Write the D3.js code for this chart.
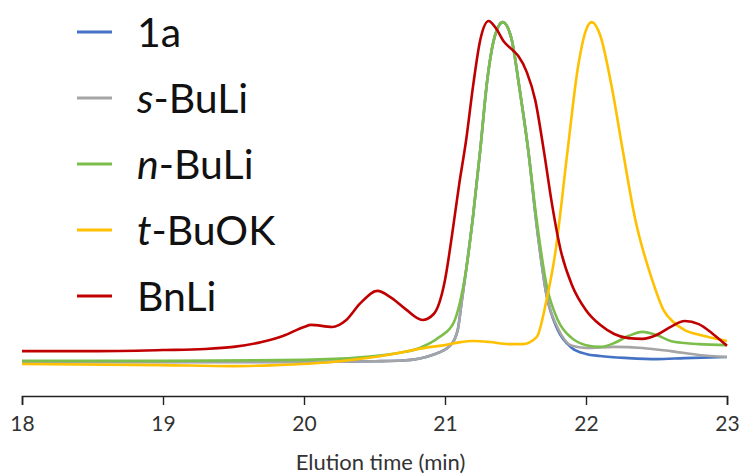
<!DOCTYPE html>
<html>
<head>
<meta charset="utf-8">
<script src="https://cdn.jsdelivr.net/npm/d3@7"></script>
<style>
  body { margin: 0; background: #fff; }
  svg { display: block; }
</style>
</head>
<body>
<div id="chart"></div>
<script>
// series names + colours
const seriesNames = ["1a", "s-BuLi", "n-BuLi", "t-BuOK", "BnLi"];
const seriesColors = ["#4472C4", "#A5A5A5", "#7BBE4A", "#FFC000", "#C00000"];

// x ticks (elution time, min)
const xTicks = [18, 19, 20, 21, 22, 23];

// detector signal (arbitrary units): [time, signal]
const data1a = [
  [18.0, 2.3], [19.0, 2.3], [20.0, 2.3], [20.5, 2.5], [20.7, 2.7], [20.91, 4.3],
  [21.04, 7.1], [21.09, 11.4], [21.12, 20.0], [21.15, 28.6], [21.2, 44.3], [21.25, 62.9],
  [21.3, 82.9], [21.35, 94.9], [21.41, 99.4], [21.47, 94.9], [21.53, 80], [21.59, 62.9],
  [21.65, 41.4], [21.72, 21.4], [21.8, 11.4], [21.9, 6.3], [22.0, 4.6], [22.1, 4.0],
  [22.3, 3.4], [22.5, 3.1], [22.7, 3.4], [23.0, 3.7]
];
const dataSBuLi = [
  [18.0, 2.3], [19.0, 2.3], [20.0, 2.3], [20.5, 2.5], [20.7, 2.7], [20.91, 4.3],
  [21.04, 7.1], [21.09, 11.4], [21.12, 20.0], [21.15, 28.6], [21.2, 44.3], [21.25, 62.9],
  [21.3, 82.9], [21.35, 94.9], [21.41, 99.4], [21.47, 94.9], [21.53, 80], [21.59, 62.9],
  [21.65, 41.4], [21.72, 21.4], [21.8, 12.0], [21.9, 6.9], [22.0, 6.3], [22.2, 6.6],
  [22.4, 6.3], [22.6, 5.4], [22.8, 4.3], [23.0, 3.7]
];
const dataNBuLi = [
  [18.0, 2.6], [19.0, 2.6], [20.0, 2.9], [20.4, 3.6], [20.68, 4.9], [20.82, 6.3],
  [20.96, 9.4], [21.06, 13.4], [21.11, 20.0], [21.15, 28.6], [21.2, 44.3], [21.25, 62.9],
  [21.3, 82.9], [21.35, 94.9], [21.41, 99.4], [21.47, 94.9], [21.53, 80], [21.59, 62.9],
  [21.65, 42.9], [21.72, 24.3], [21.8, 14.3], [21.9, 9.1], [22.0, 7.1], [22.1, 6.6],
  [22.2, 7.7], [22.3, 9.7], [22.4, 10.9], [22.5, 10.0], [22.6, 8.3], [22.7, 7.7],
  [22.8, 7.4], [23.0, 7.1]
];
const dataTBuOK = [
  [18.0, 1.7], [19.0, 1.4], [19.5, 1.1], [19.8, 1.4], [20.2, 2.3], [20.5, 3.7],
  [20.7, 5.1], [20.9, 6.6], [21.0, 7.1], [21.1, 7.9], [21.2, 8.3], [21.32, 8.0],
  [21.45, 7.4], [21.55, 7.4], [21.65, 9.4], [21.72, 20.0], [21.78, 32.9], [21.87, 62.9],
  [21.94, 85.7], [22.0, 97.1], [22.04, 99.4], [22.1, 95.7], [22.18, 81.4], [22.26, 62.9],
  [22.35, 42.9], [22.47, 25.7], [22.55, 17.1], [22.62, 13.7], [22.7, 11.4], [22.81, 10.0],
  [23.0, 8.3]
];
const dataBnLi = [
  [18.0, 5.4], [18.5, 5.4], [19.0, 5.7], [19.3, 6.0], [19.5, 6.6], [19.7, 8.0],
  [19.85, 9.7], [20.0, 12.3], [20.05, 12.9], [20.2, 12.3], [20.3, 14.3], [20.4, 19.1],
  [20.52, 22.6], [20.62, 20.6], [20.72, 17.4], [20.84, 14.3], [20.92, 16.0], [21.0, 25.7],
  [21.05, 38.6], [21.1, 52.9], [21.15, 65.7], [21.2, 81.4], [21.25, 94.3], [21.31, 99.7],
  [21.36, 97.7], [21.42, 93.7], [21.48, 91.4], [21.52, 89.7], [21.58, 85.1], [21.64, 77.1],
  [21.7, 62.9], [21.76, 47.1], [21.82, 34.3], [21.9, 24.3], [22.0, 17.1], [22.1, 12.9],
  [22.2, 10.3], [22.3, 9.1], [22.4, 8.9], [22.5, 10.0], [22.6, 12.3], [22.7, 14.0],
  [22.8, 13.1], [22.9, 10.3], [23.0, 6.9]
];

const allSeries = [data1a, dataSBuLi, dataNBuLi, dataTBuOK, dataBnLi];

const width = 742;
const height = 476;
const font = "Lato, 'Open Sans', sans-serif";

const svg = d3.select("#chart")
  .append("svg")
  .attr("width", width)
  .attr("height", height);

const xScale = d3.scaleLinear().domain([18, 23]).range([22, 727]);
const yScale = d3.scaleLinear().domain([0, 100]).range([370, 20]);

// x axis
const xAxis = d3.axisBottom(xScale)
  .tickValues(xTicks)
  .tickSize(9)
  .tickPadding(11)
  .tickFormat(d3.format("d"));

const axisG = svg.append("g")
  .attr("transform", "translate(0, 396)")
  .call(xAxis);
axisG.select(".domain").attr("stroke", "#222").attr("stroke-width", 1.6);
axisG.selectAll(".tick line").attr("stroke", "#222").attr("stroke-width", 1.4);
axisG.selectAll(".tick text")
  .attr("fill", "#333")
  .style("font-family", font)
  .style("font-size", "21px");

svg.append("text")
  .attr("x", (xScale(18) + xScale(23)) / 2 + 6)
  .attr("y", 470)
  .attr("text-anchor", "middle")
  .attr("fill", "#333")
  .style("font-family", font)
  .style("font-size", "22px")
  .text("Elution time (min)");

// curves
const line = d3.line()
  .x(d => xScale(d[0]))
  .y(d => yScale(d[1]))
  .curve(d3.curveMonotoneX);

svg.selectAll("path.series")
  .data(allSeries)
  .enter()
  .append("path")
  .attr("class", "series")
  .attr("fill", "none")
  .attr("stroke", (d, i) => seriesColors[i])
  .attr("stroke-width", 2.6)
  .attr("stroke-linejoin", "round")
  .attr("d", line);

// legend
const legend = svg.append("g");
const legendY = i => 32 + i * 66;

legend.selectAll("line")
  .data(seriesNames)
  .enter()
  .append("line")
  .attr("x1", 77)
  .attr("x2", 112)
  .attr("y1", (d, i) => legendY(i))
  .attr("y2", (d, i) => legendY(i))
  .attr("stroke", (d, i) => seriesColors[i])
  .attr("stroke-width", 3);

const legendText = legend.selectAll("text")
  .data(seriesNames)
  .enter()
  .append("text")
  .attr("x", 137)
  .attr("y", (d, i) => legendY(i) + 15)
  .attr("fill", "#111")
  .style("font-family", font)
  .style("font-size", "41px");

legendText.each(function (d) {
  const t = d3.select(this);
  const parts = d.split("-");
  if (parts.length === 2) {
    t.append("tspan").style("font-style", "italic").text(parts[0]);
    t.append("tspan").text("-" + parts[1]);
  } else {
    t.text(d);
  }
});
</script>
</body>
</html>
